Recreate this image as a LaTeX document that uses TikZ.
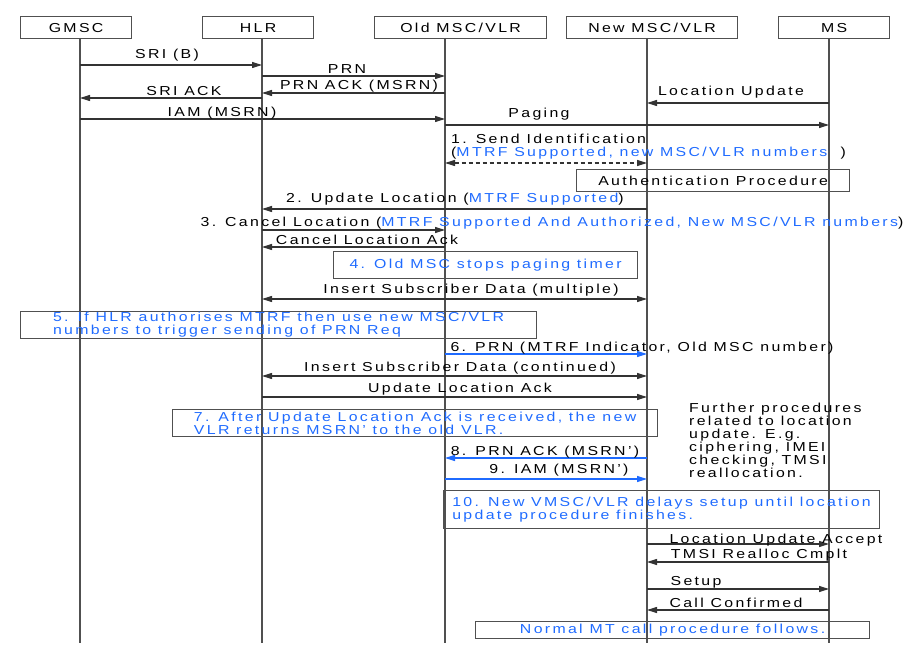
\documentclass[tikz,border=0pt]{standalone}
\usepackage{fontspec}
\setmainfont{Liberation Sans}[FakeStretch=1.22,LetterSpace=18]
\usepackage{xcolor}
\usetikzlibrary{arrows.meta,positioning,calc}
\definecolor{msgBlue}{HTML}{1F6BFF}
\definecolor{lineGray}{HTML}{505050}

\begin{document}
\begin{tikzpicture}[
    x=1pt, y=-1pt,
    >={Triangle[length=10pt,width=6pt]},
    every node/.style={font=\fontsize{13}{13}\selectfont, inner sep=0pt},
    entity/.style={draw=lineGray, line width=1.2pt, minimum height=22pt, anchor=north west},
    life/.style={draw=lineGray, line width=1.3pt},
    notebox/.style={draw=lineGray, line width=1.2pt, anchor=north west, align=left, text=msgBlue},
    msg/.style={draw=black!80, line width=1.1pt, ->},
    dual/.style={msg, <->},
    bluemsg/.style={draw=msgBlue, line width=1.1pt, ->, msgBlue},
    dashmsg/.style={msg, <->, dash pattern=on 4pt off 3pt}
  ]
  \useasboundingbox (0,0) rectangle (911,655);
  %% Entities and their lifelines
  \foreach \nm/\lx/\bx/\bw/\txt in {
      gmsc/80/20/111/GMSC,
      hlr/262/202/111/HLR,
      old/445/374/172/{Old MSC/VLR},
      new/647/566/171/{New MSC/VLR},
      ms/829/778/111/MS
    }{
    \node[entity, minimum width=\bw pt] (\nm) at (\bx,16) {\txt};
    \coordinate (l\nm) at (\lx,38);
    \draw[life] (l\nm) -- (l\nm |- 0,643);
  }
  %% Messages: from/to/y/style/label x/label baseline/label
  \foreach \src/\dst/\y/\sty/\lx/\ly/\txt [count=\i] in {
      lgmsc/lhlr/65/msg/167/59/{SRI (B)},
      lhlr/lold/76/msg/347/74/PRN,
      lold/lhlr/93/msg/359/90/{PRN ACK (MSRN)},
      lhlr/lgmsc/98/msg/184/96/{SRI ACK},
      lms/lnew/103/msg/731/96/{Location Update},
      lgmsc/lold/119/msg/222/117/{IAM (MSRN)},
      lold/lms/125/msg/539/118/Paging,
      lnew/lhlr/209/msg/455/203/{2. Update Location (\textcolor{msgBlue}{MTRF Supported})},
      lhlr/lold/230/msg/552/227/{3. Cancel Location (\textcolor{msgBlue}{MTRF Supported And Authorized, New MSC/VLR numbers})},
      lold/lhlr/247/msg/367/245/{Cancel Location Ack},
      lhlr/lnew/299/dual/471/294/{Insert Subscriber Data (multiple)},
      lold/lnew/354/bluemsg/642/352/{6. PRN (MTRF Indicator, Old MSC number)},
      lhlr/lnew/376/dual/460/371/{Insert Subscriber Data (continued)},
      lhlr/lnew/397/msg/460/392/{Update Location Ack},
      lnew/lold/458/bluemsg/545/455/{8. PRN ACK (MSRN’)},
      lold/lnew/479/bluemsg/559/473/{9. IAM (MSRN’)},
      lnew/lms/544/msg/776/543/{Location Update Accept},
      lms/lnew/562/msg/759/558/{TMSI Realloc Cmplt},
      lnew/lms/589/msg/696/585/Setup,
      lms/lnew/610/msg/736/607/{Call Confirmed}
    }{
    \draw[\sty] (\src |- 0,\y) -- (\dst |- 0,\y);
    \node[anchor=base] (m\i) at (\lx,\ly) {\txt};
  }
  %% Send Identification (dashed, both ways)
  \draw[dashmsg] (lold |- 0,163) -- (lnew |- 0,163);
  \node[anchor=north west, align=left] (sendid) at (451,134)
    {1. Send Identification\\(\textcolor{msgBlue}{MTRF Supported, new MSC/VLR numbers}\ \ )};
  %% Notes
  \node[notebox, text=black, align=center, minimum width=273pt, minimum height=22pt] (auth) at (576,169) {Authentication Procedure};
  \node[notebox, align=center, minimum width=304pt, minimum height=27pt] (note4) at (333,251) {4. Old MSC stops paging timer};
  \node[notebox, minimum width=516pt, minimum height=27pt] (note5) at (20,311)
    {5. If HLR authorises MTRF then use new MSC/VLR\\numbers to trigger sending of PRN Req};
  \node[notebox, minimum width=485pt, minimum height=27pt] (note7) at (172,409)
    {7. After Update Location Ack is received, the new\\VLR returns MSRN’ to the old VLR.};
  \node[anchor=north west, align=left] (further) at (689,403)
    {Further procedures\\related to location\\update. E.g.\\ciphering, IMEI\\checking, TMSI\\reallocation.};
  \node[notebox, minimum width=436pt, minimum height=38pt] (note10) at (443,490)
    {10. New VMSC/VLR delays setup until location\\update procedure finishes.};
  \node[notebox, align=center, minimum width=394pt, minimum height=17pt] (normal) at (475,621) {Normal MT call procedure follows.};
\end{tikzpicture}
\end{document}
